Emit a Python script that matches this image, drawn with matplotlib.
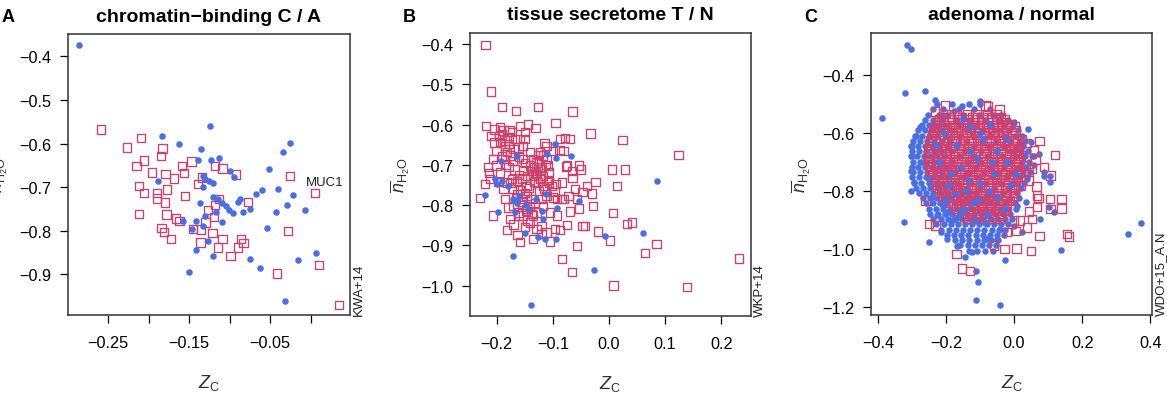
import matplotlib
matplotlib.use("Agg")
import matplotlib.pyplot as plt

plt.rcParams['font.family'] = ['Liberation Sans', 'DejaVu Sans']
plt.rcParams['mathtext.fontset'] = 'custom'
plt.rcParams['mathtext.rm'] = 'Liberation Sans'
plt.rcParams['mathtext.it'] = 'Liberation Sans:italic'

BLUE = '#4A6FE3'
RED = '#D33F6A'

# ---- panel A: chromatin-binding C / A (KWA+14)
a_blue_x = [-0.286, -0.124, -0.183, -0.163, -0.135, -0.139, -0.123, -0.113, -0.188, -0.133,
            -0.130, -0.126, -0.120, -0.133, -0.100, -0.095, -0.120, -0.114, -0.109, -0.105,
            -0.101, -0.096, -0.090, -0.087, -0.083, -0.075, -0.068, -0.060, -0.051, -0.041,
            -0.034, -0.025, -0.022, -0.029, -0.043, -0.054, -0.007, -0.136, -0.130, -0.117,
            -0.110, -0.157, -0.141, -0.133, -0.146, -0.141, -0.127, -0.120, -0.075, -0.063,
            -0.016, 0.007, -0.150, -0.032]
a_blue_y = [-0.374, -0.559, -0.582, -0.601, -0.613, -0.637, -0.637, -0.633, -0.685, -0.674,
            -0.681, -0.686, -0.691, -0.700, -0.664, -0.677, -0.723, -0.726, -0.736, -0.744,
            -0.752, -0.760, -0.733, -0.727, -0.756, -0.750, -0.716, -0.707, -0.658, -0.704,
            -0.619, -0.598, -0.717, -0.740, -0.758, -0.794, -0.752, -0.736, -0.765, -0.758,
            -0.779, -0.777, -0.778, -0.788, -0.796, -0.843, -0.823, -0.857, -0.865, -0.885,
            -0.866, -0.850, -0.894, -0.960]
a_red_x = [-0.259, -0.209, -0.227, -0.183, -0.185, -0.206, -0.215, -0.196, -0.179, -0.169,
           -0.159, -0.147, -0.156, -0.139, -0.134, -0.118, -0.109, -0.092, -0.212, -0.206,
           -0.190, -0.190, -0.177, -0.180, -0.155, -0.212, -0.178, -0.166, -0.162, -0.184,
           -0.181, -0.172, -0.145, -0.135, -0.136, -0.130, -0.127, -0.118, -0.113, -0.119,
           -0.121, -0.109, -0.114, -0.099, -0.090, -0.086, -0.083, -0.077, -0.026, 0.005,
           -0.028, -0.042, 0.010, 0.035]
a_red_y = [-0.568, -0.587, -0.609, -0.611, -0.629, -0.639, -0.651, -0.666, -0.670, -0.680,
           -0.651, -0.641, -0.668, -0.693, -0.678, -0.652, -0.657, -0.671, -0.698, -0.714,
           -0.713, -0.726, -0.705, -0.735, -0.720, -0.762, -0.763, -0.772, -0.777, -0.794,
           -0.803, -0.819, -0.796, -0.797, -0.827, -0.781, -0.752, -0.741, -0.727, -0.769,
           -0.805, -0.819, -0.838, -0.857, -0.838, -0.819, -0.828, -0.734, -0.674, -0.713,
           -0.801, -0.898, -0.878, -0.970]

# ---- panel B: tissue secretome T / N (WKP+14)
b_blue_x = [-0.220, -0.202, -0.199, -0.190, -0.198, -0.192, -0.179, -0.170, -0.164, -0.170,
            -0.166, -0.161, -0.164, -0.167, -0.147, -0.150, -0.129, -0.120, -0.117, -0.126,
            -0.114, -0.111, -0.096, -0.094, -0.112, -0.093, -0.094, -0.068, -0.054, -0.007,
            -0.026, 0.061, 0.086, -0.138, -0.144]
b_blue_y = [-0.775, -0.735, -0.748, -0.740, -0.817, -0.691, -0.752, -0.927, -0.677, -0.785,
            -0.789, -0.777, -0.795, -0.818, -0.797, -0.868, -0.785, -0.814, -0.835, -0.880,
            -0.883, -0.673, -0.648, -0.682, -0.773, -0.808, -0.883, -0.677, -0.789, -0.876,
            -0.961, -0.870, -0.740, -1.048, -0.810]
b_red_x = [-0.220, -0.210, -0.190, -0.166, -0.126, -0.065, -0.219, -0.095, -0.033, 0.024,
           0.124, 0.006, 0.029, 0.014, 0.007, 0.032, 0.041, -0.019, 0.002, 0.085,
           0.064, -0.057, -0.084, -0.066, 0.008, 0.139, 0.232, -0.024, -0.030, -0.028,
           -0.047, -0.050, -0.053, -0.065, -0.075, -0.047, -0.043, -0.053, -0.069, -0.087,
           -0.105, -0.135, -0.158, -0.182, -0.163, -0.206, -0.230, -0.221, -0.215, -0.210,
           -0.177, -0.158, -0.144, -0.131, -0.150, -0.149, -0.115, -0.087, -0.078, -0.088,
           -0.099, -0.126, -0.077, -0.066, -0.083, -0.095, -0.100, -0.093, -0.081, -0.107,
           -0.107, -0.120, -0.117, -0.185, -0.179, -0.188, -0.194, -0.196, -0.194, -0.185,
           -0.182, -0.206, -0.200, -0.194, -0.179, -0.173, -0.164, -0.155, -0.147, -0.176,
           -0.161, -0.167, -0.153, -0.141, -0.135, -0.126, -0.138, -0.147, -0.153, -0.161,
           -0.170, -0.176, -0.141, -0.129, -0.120, -0.129, -0.117, -0.111, -0.105, -0.093,
           -0.120, -0.155, -0.141, -0.129, -0.117, -0.111, -0.108, -0.130, -0.123, -0.153,
           -0.188, -0.173, -0.179, -0.158, -0.153, -0.185, -0.212, -0.182, -0.170, -0.164,
           -0.147, -0.141, -0.135, -0.111, -0.096, -0.084, -0.072, -0.060, -0.057, -0.039,
           -0.075, -0.123, -0.111, -0.135, -0.081, -0.069,
           -0.205, -0.200, -0.191, -0.183, -0.172, -0.168, -0.160, -0.152, -0.146, -0.139,
           -0.133, -0.128, -0.122, -0.118, -0.134, -0.142, -0.150, -0.158, -0.166, -0.154,
           -0.148, -0.160, -0.145, -0.132, -0.125, -0.115, -0.108, -0.101, -0.097, -0.190,
           -0.178, -0.170, -0.160, -0.150, -0.205, -0.186, -0.213, -0.197, -0.175, -0.125,
           -0.112, -0.120, -0.138, -0.170, -0.150]
b_red_y = [-0.403, -0.518, -0.556, -0.567, -0.557, -0.568, -0.604, -0.597, -0.622, -0.638,
           -0.675, -0.712, -0.712, -0.752, -0.819, -0.846, -0.843, -0.865, -0.888, -0.896,
           -0.918, -0.902, -0.934, -0.966, -0.999, -1.003, -0.932, -0.742, -0.771, -0.802,
           -0.767, -0.712, -0.702, -0.733, -0.850, -0.851, -0.851, -0.808, -0.816, -0.861,
           -0.890, -0.884, -0.891, -0.861, -0.874, -0.826, -0.783, -0.748, -0.705, -0.628,
           -0.613, -0.603, -0.600, -0.609, -0.618, -0.636, -0.646, -0.636, -0.634, -0.663,
           -0.665, -0.675, -0.704, -0.715, -0.744, -0.748, -0.781, -0.785, -0.785, -0.719,
           -0.744, -0.706, -0.752, -0.785, -0.806, -0.760, -0.607, -0.628, -0.644, -0.653,
           -0.669, -0.686, -0.702, -0.719, -0.706, -0.735, -0.740, -0.735, -0.752, -0.677,
           -0.657, -0.636, -0.686, -0.702, -0.727, -0.744, -0.785, -0.810, -0.826, -0.818,
           -0.802, -0.835, -0.843, -0.860, -0.872, -0.818, -0.802, -0.777, -0.818, -0.826,
           -0.851, -0.785, -0.669, -0.694, -0.677, -0.686, -0.702, -0.719, -0.735, -0.793,
           -0.615, -0.619, -0.632, -0.636, -0.653, -0.686, -0.735, -0.744, -0.760, -0.773,
           -0.777, -0.802, -0.826, -0.868, -0.860, -0.785, -0.777, -0.760, -0.785, -0.752,
           -0.702, -0.669, -0.653, -0.686, -0.665, -0.636,
           -0.645, -0.665, -0.678, -0.700, -0.690, -0.712, -0.725, -0.713, -0.728, -0.716,
           -0.705, -0.722, -0.712, -0.728, -0.742, -0.758, -0.770, -0.762, -0.782, -0.800,
           -0.815, -0.826, -0.838, -0.795, -0.765, -0.760, -0.737, -0.752, -0.768, -0.625,
           -0.648, -0.660, -0.680, -0.695, -0.612, -0.640, -0.720, -0.742, -0.745, -0.690,
           -0.700, -0.785, -0.822, -0.848, -0.855]

# ---- panel C: adenoma / normal (WDO+15_A.N)
# dense core read row by row: (y, x values along the row)
c_blue_rows = [
    (-0.500, [-0.226, -0.181, -0.133, -0.101]),
    (-0.518, [-0.238, -0.209, -0.163, -0.118, -0.072]),
    (-0.536, [-0.252, -0.221, -0.196, -0.149, -0.104, -0.061, -0.038]),
    (-0.554, [-0.262, -0.238, -0.215, -0.172, -0.128, -0.084, -0.046, -0.018]),
    (-0.572, [-0.271, -0.249, -0.226, -0.203, -0.158, -0.112, -0.067, -0.031, -0.004]),
    (-0.590, [-0.283, -0.261, -0.238, -0.214, -0.186, -0.139, -0.091, -0.048, -0.015, 0.012]),
    (-0.608, [-0.292, -0.270, -0.247, -0.225, -0.201, -0.162, -0.118, -0.072, -0.029, 0.004, 0.024]),
    (-0.626, [-0.298, -0.277, -0.256, -0.234, -0.212, -0.189, -0.141, -0.094, -0.052, -0.011, 0.016, 0.033]),
    (-0.644, [-0.302, -0.283, -0.262, -0.241, -0.220, -0.197, -0.168, -0.119, -0.075, -0.031, 0.008, 0.027]),
    (-0.662, [-0.300, -0.279, -0.258, -0.236, -0.214, -0.186, -0.143, -0.098, -0.054, -0.012, 0.019, 0.041]),
    (-0.680, [-0.304, -0.285, -0.266, -0.246, -0.225, -0.203, -0.162, -0.121, -0.077, -0.035, 0.006, 0.031, 0.052]),
    (-0.698, [-0.297, -0.276, -0.255, -0.234, -0.212, -0.181, -0.139, -0.096, -0.053, -0.014, 0.022, 0.044]),
    (-0.716, [-0.301, -0.282, -0.262, -0.242, -0.221, -0.198, -0.157, -0.113, -0.071, -0.029, 0.012, 0.036]),
    (-0.734, [-0.296, -0.275, -0.255, -0.233, -0.212, -0.189, -0.173, -0.131, -0.088, -0.047, -0.006, 0.027, 0.048]),
    (-0.752, [-0.299, -0.279, -0.258, -0.238, -0.217, -0.196, -0.151, -0.107, -0.064, -0.022, 0.017, 0.039]),
    (-0.770, [-0.293, -0.272, -0.251, -0.230, -0.209, -0.188, -0.167, -0.126, -0.083, -0.041, 0.004, 0.029]),
    (-0.788, [-0.289, -0.268, -0.246, -0.224, -0.203, -0.181, -0.159, -0.138, -0.099, -0.058, -0.017, 0.021]),
    (-0.806, [-0.279, -0.258, -0.237, -0.216, -0.195, -0.174, -0.152, -0.131, -0.112, -0.074, -0.033, 0.008]),
    (-0.824, [-0.268, -0.247, -0.226, -0.205, -0.184, -0.163, -0.142, -0.121, -0.100, -0.081, -0.047, -0.012, 0.014]),
    (-0.842, [-0.259, -0.238, -0.217, -0.196, -0.175, -0.154, -0.133, -0.112, -0.091, -0.070, -0.049, -0.024, 0.002]),
    (-0.860, [-0.251, -0.230, -0.209, -0.188, -0.167, -0.146, -0.125, -0.104, -0.083, -0.062, -0.041, -0.018, 0.006]),
    (-0.878, [-0.246, -0.224, -0.202, -0.181, -0.160, -0.139, -0.118, -0.097, -0.076, -0.055, -0.034, -0.011]),
    (-0.896, [-0.238, -0.216, -0.195, -0.174, -0.153, -0.132, -0.111, -0.090, -0.069, -0.048, -0.027, -0.006]),
    (-0.914, [-0.229, -0.207, -0.186, -0.165, -0.144, -0.123, -0.102, -0.081, -0.060, -0.039, -0.018]),
    (-0.932, [-0.214, -0.192, -0.171, -0.150, -0.129, -0.108, -0.087, -0.066, -0.045, -0.026]),
    (-0.950, [-0.197, -0.176, -0.155, -0.134, -0.113, -0.092, -0.071, -0.050, -0.031]),
    (-0.968, [-0.174, -0.152, -0.131, -0.110, -0.089, -0.068, -0.047]),
    (-0.986, [-0.158, -0.136, -0.115, -0.094, -0.073, -0.052]),
    (-1.004, [-0.132, -0.109, -0.085, -0.062]),
]
c_red_rows = [
    (-0.535, [-0.208, -0.176, -0.139, -0.108, -0.079, -0.052]),
    (-0.544, [-0.215, -0.186, -0.153, -0.122, -0.093, -0.064, -0.038]),
    (-0.553, [-0.221, -0.193, -0.165, -0.136, -0.107, -0.078, -0.049, -0.027]),
    (-0.562, [-0.226, -0.182, -0.151, -0.121, -0.092, -0.063, -0.034]),
    (-0.571, [-0.229, -0.202, -0.174, -0.147, -0.119, -0.091, -0.063, -0.036, -0.012]),
    (-0.580, [-0.232, -0.190, -0.163, -0.133, -0.106, -0.077, -0.050, -0.022]),
    (-0.589, [-0.235, -0.209, -0.183, -0.156, -0.129, -0.102, -0.075, -0.048, -0.021, 0.004]),
    (-0.598, [-0.238, -0.197, -0.170, -0.142, -0.115, -0.089, -0.061, -0.034, -0.008]),
    (-0.607, [-0.241, -0.216, -0.190, -0.163, -0.137, -0.110, -0.084, -0.057, -0.031, -0.006]),
    (-0.616, [-0.243, -0.205, -0.177, -0.151, -0.126, -0.099, -0.072, -0.046, -0.020, 0.004]),
    (-0.625, [-0.245, -0.221, -0.196, -0.170, -0.145, -0.119, -0.093, -0.067, -0.041, -0.015, 0.008]),
    (-0.634, [-0.246, -0.209, -0.184, -0.158, -0.132, -0.107, -0.081, -0.055, -0.029, -0.003]),
    (-0.643, [-0.247, -0.223, -0.199, -0.174, -0.149, -0.124, -0.099, -0.074, -0.049, -0.024, 0.001]),
    (-0.652, [-0.249, -0.212, -0.187, -0.162, -0.137, -0.112, -0.087, -0.062, -0.037, -0.012, 0.010]),
    (-0.661, [-0.251, -0.227, -0.203, -0.179, -0.155, -0.130, -0.106, -0.082, -0.057, -0.033, -0.009, 0.014]),
    (-0.670, [-0.250, -0.214, -0.189, -0.164, -0.139, -0.114, -0.089, -0.064, -0.039, -0.014, 0.009]),
    (-0.679, [-0.249, -0.224, -0.199, -0.174, -0.149, -0.124, -0.099, -0.074, -0.049, -0.024, 0.002]),
    (-0.688, [-0.251, -0.214, -0.190, -0.165, -0.140, -0.116, -0.091, -0.066, -0.041, -0.016, 0.012]),
    (-0.697, [-0.252, -0.228, -0.204, -0.180, -0.156, -0.132, -0.108, -0.084, -0.060, -0.036, -0.012, 0.013]),
    (-0.706, [-0.250, -0.215, -0.190, -0.166, -0.142, -0.117, -0.093, -0.068, -0.044, -0.020, 0.006]),
    (-0.715, [-0.247, -0.222, -0.197, -0.172, -0.147, -0.122, -0.097, -0.072, -0.047, -0.022, 0.004]),
    (-0.724, [-0.245, -0.209, -0.184, -0.160, -0.135, -0.110, -0.086, -0.061, -0.036, -0.011, 0.011]),
    (-0.733, [-0.243, -0.219, -0.195, -0.171, -0.147, -0.123, -0.099, -0.075, -0.051, -0.027, -0.003, 0.018]),
    (-0.742, [-0.240, -0.204, -0.179, -0.155, -0.130, -0.106, -0.081, -0.057, -0.032, -0.008, 0.009]),
    (-0.751, [-0.238, -0.213, -0.188, -0.163, -0.138, -0.113, -0.088, -0.063, -0.038, -0.013, 0.011]),
    (-0.760, [-0.235, -0.198, -0.174, -0.149, -0.125, -0.100, -0.076, -0.051, -0.027, -0.003]),
    (-0.769, [-0.233, -0.209, -0.185, -0.161, -0.137, -0.113, -0.089, -0.065, -0.041, -0.017, 0.006]),
    (-0.778, [-0.229, -0.193, -0.168, -0.144, -0.119, -0.095, -0.070, -0.046, -0.021, 0.001]),
    (-0.787, [-0.226, -0.201, -0.176, -0.151, -0.126, -0.101, -0.076, -0.051, -0.026, -0.002]),
    (-0.796, [-0.220, -0.184, -0.159, -0.135, -0.110, -0.086, -0.061, -0.037, -0.012]),
    (-0.805, [-0.214, -0.190, -0.166, -0.142, -0.118, -0.094, -0.070, -0.046, -0.022, 0.003]),
    (-0.814, [-0.207, -0.171, -0.146, -0.122, -0.097, -0.073, -0.048, -0.024, -0.003]),
    (-0.823, [-0.201, -0.176, -0.151, -0.126, -0.101, -0.076, -0.051, -0.026, -0.004]),
    (-0.832, [-0.194, -0.158, -0.133, -0.109, -0.084, -0.060, -0.035, -0.012]),
    (-0.841, [-0.188, -0.164, -0.140, -0.116, -0.092, -0.068, -0.044, -0.020]),
    (-0.850, [-0.180, -0.143, -0.119, -0.094, -0.070, -0.045, -0.021]),
    (-0.859, [-0.171, -0.146, -0.121, -0.096, -0.071, -0.046, -0.022]),
    (-0.868, [-0.163, -0.127, -0.102, -0.078, -0.053, -0.030]),
    (-0.877, [-0.155, -0.131, -0.107, -0.083, -0.059, -0.035]),
    (-0.886, [-0.147, -0.110, -0.086, -0.061, -0.042]),
    (-0.895, [-0.139, -0.114, -0.089, -0.064, -0.040]),
]
# scattered points outside the core
c_blue_x = [-0.314, -0.304, -0.389, -0.319, -0.262, -0.324, -0.249, 0.333, 0.373, 0.139,
            -0.111, -0.042, -0.107, -0.111, -0.143, -0.123, -0.027, 0.040, 0.050, 0.072,
            0.087, 0.075, 0.116, 0.022, -0.152, -0.099, -0.231, -0.241, -0.289, -0.301,
            -0.299, -0.304, -0.294, -0.302, -0.270, -0.275, -0.216, -0.177, -0.001, 0.028,
            0.058, 0.038, 0.009, -0.216, -0.197, -0.167, -0.079, -0.050, -0.001, 0.058,
            0.087, 0.106, 0.106, 0.034, 0.102]
c_blue_y = [-0.295, -0.309, -0.548, -0.462, -0.454, -0.907, -0.974, -0.948, -0.909, -1.003,
            -1.175, -1.191, -1.111, -1.074, -1.028, -1.010, -1.037, -0.585, -0.631, -0.671,
            -0.734, -0.895, -0.872, -0.941, -0.508, -0.490, -0.487, -0.574, -0.611, -0.643,
            -0.677, -0.731, -0.769, -0.798, -0.700, -0.579, -0.539, -0.522, -0.562, -0.677,
            -0.711, -0.757, -0.849, -0.941, -0.964, -0.987, -0.964, -0.964, -0.918, -0.677,
            -0.746, -0.746, -0.769, -0.838, -0.855]
c_red_x = [-0.203, -0.233, -0.167, -0.084, -0.077, -0.043, -0.021, 0.002, 0.023, 0.036,
           0.075, 0.121, 0.058, 0.063, 0.087, 0.107, 0.043, 0.066, 0.105, 0.139,
           0.139, 0.072, 0.068, 0.053, 0.075, 0.156, 0.161, 0.038, 0.017, 0.005,
           -0.028, 0.007, 0.050, -0.060, -0.169, -0.153, -0.130, -0.260, -0.250, -0.231,
           0.019, 0.033, 0.019, 0.053, 0.068, -0.021, -0.001, 0.043, 0.107, 0.043]
c_red_y = [-0.505, -0.525, -0.533, -0.505, -0.508, -0.518, -0.568, -0.577, -0.620, -0.633,
           -0.628, -0.674, -0.660, -0.692, -0.717, -0.746, -0.763, -0.783, -0.826, -0.826,
           -0.859, -0.824, -0.853, -0.895, -0.953, -0.947, -0.956, -0.925, -0.901, -0.936,
           -0.999, -0.997, -1.005, -0.987, -1.016, -1.066, -1.074, -0.832, -0.913, -0.918,
           -0.677, -0.711, -0.780, -0.723, -0.815, -0.941, -0.901, -0.734, -0.860, -0.870]
# blue points that sit on top of the red core
c_top_x = [-0.205, -0.170, -0.130, -0.090, -0.050, -0.220, -0.160, -0.110, -0.060, -0.020,
           -0.190, -0.140, -0.100, -0.050, -0.210, -0.160, -0.120, -0.080, -0.030, -0.130,
           -0.070, -0.230, -0.180, -0.040, -0.250, -0.010, -0.150, -0.240, -0.200, -0.175,
           -0.145, -0.115, -0.085, -0.195, -0.165, -0.135, -0.105, -0.075, -0.225, -0.185,
           -0.100, -0.065, -0.020, 0.005]
c_top_y = [-0.600, -0.640, -0.580, -0.620, -0.660, -0.700, -0.720, -0.690, -0.740, -0.700,
           -0.780, -0.800, -0.770, -0.820, -0.850, -0.870, -0.840, -0.880, -0.860, -0.660,
           -0.570, -0.640, -0.900, -0.930, -0.760, -0.780, -0.550, -0.820, -0.830, -0.810,
           -0.860, -0.900, -0.910, -0.870, -0.890, -0.760, -0.830, -0.800, -0.880, -0.740,
           -0.600, -0.700, -0.620, -0.740]


def rows_to_xy(rows):
    xs = [x for y, row in rows for x in row]
    ys = [y for y, row in rows for x in row]
    return xs, ys


def minus(v, fmt):
    return (fmt % v).replace('-', '\u2212')


def panel(rect, letter, title, ref, xlim, ylim, xticks, xlabels, yticks, ylabels, letter_x):
    ax = fig.add_axes(rect)
    ax.set_xlim(*xlim)
    ax.set_ylim(*ylim)
    ax.set_xticks(xticks, xlabels)
    ax.set_yticks(yticks, ylabels)
    ax.tick_params(axis='both', direction='out', length=5.8, width=0.9, labelsize=11.7, color='black')
    ax.tick_params(axis='x', pad=8.5)
    ax.tick_params(axis='y', pad=6)
    for s in ax.spines.values():
        s.set_color('#333333')
        s.set_linewidth(1.1)
    ax.text(0.5, 1.064, title, transform=ax.transAxes, ha='center', va='center',
            fontsize=14, fontweight='bold')
    ax.text(0.5, -0.238, r'$Z_\mathrm{C}$', transform=ax.transAxes, ha='center', va='center',
            fontsize=13, color='#333333')
    ax.text(-0.248, 0.5, r'$\overline{n}_{\mathrm{H_2O}}$', transform=ax.transAxes, rotation=90,
            ha='center', va='center', fontsize=13, color='#333333')
    ax.text(1.032, 0.0, ref, transform=ax.transAxes, rotation=90, ha='center', va='bottom',
            fontsize=9.5, color='#222222')
    fig.text(letter_x / 1167, 1 - 17 / 414, letter, ha='center', va='center',
             fontsize=13, fontweight='bold')
    return ax


fig = plt.figure(figsize=(11.67, 4.14), dpi=100)
sq = dict(marker='s', s=36, facecolors='none', edgecolors=RED, linewidths=0.95)
dot = dict(marker='o', s=22, color=BLUE, linewidths=0)

# A
xt = [-0.25, -0.20, -0.15, -0.10, -0.05, 0.00]
xl = [minus(v, '%.2f') if i % 2 == 0 else '' for i, v in enumerate(xt)]
yt = [-0.4, -0.5, -0.6, -0.7, -0.8, -0.9]
axA = panel([0.0583, 0.2367, 0.2416, 0.6787], 'A', 'chromatin\u2212binding C / A', 'KWA+14',
            (-0.2994, 0.0484), (-0.993, -0.349), xt, xl, yt, [minus(v, '%.1f') for v in yt], 8)
axA.scatter(a_red_x, a_red_y, **sq)
axA.scatter(a_blue_x, a_blue_y, **dot)
axA.text(0.0175, -0.689, 'MUC1', ha='center', va='center', fontsize=9.5, color='#222222')

# B
xt = [-0.2, -0.1, 0.0, 0.1, 0.2]
yt = [-0.4, -0.5, -0.6, -0.7, -0.8, -0.9, -1.0]
axB = panel([0.4027, 0.2343, 0.2408, 0.6836], 'B', 'tissue secretome T / N', 'WKP+14',
            (-0.2475, 0.253), (-1.075, -0.373), xt, [minus(v, '%.1f') for v in xt],
            yt, [minus(v, '%.1f') for v in yt], 409)
axB.scatter(b_red_x, b_red_y, **sq)
axB.scatter(b_blue_x, b_blue_y, **dot)

# C
xt = [-0.4, -0.2, 0.0, 0.2, 0.4]
yt = [-0.4, -0.6, -0.8, -1.0, -1.2]
axC = panel([0.7464, 0.2367, 0.2408, 0.6812], 'C', 'adenoma / normal', 'WDO+15_A.N',
            (-0.42, 0.405), (-1.226, -0.255), xt, [minus(v, '%.1f') for v in xt],
            yt, [minus(v, '%.1f') for v in yt], 811)
bx, by = rows_to_xy(c_blue_rows)
rx, ry = rows_to_xy(c_red_rows)
axC.scatter(bx + c_blue_x, by + c_blue_y, **dot)
axC.scatter(rx + c_red_x, ry + c_red_y, **sq)
axC.scatter(c_top_x, c_top_y, **dot)

fig.savefig('out.png', dpi=100)
